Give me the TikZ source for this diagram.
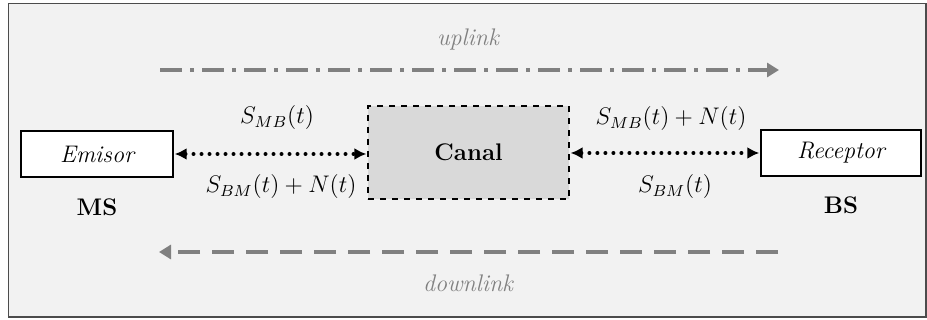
\documentclass[tikz,border=0pt]{standalone}
\usetikzlibrary{arrows.meta}

\definecolor{framegray}{HTML}{F2F2F2}
\definecolor{linkgray}{HTML}{808080}
\definecolor{canalgray}{HTML}{D9D9D9}

\tikzset{
  block/.style={draw,line width=0.7pt,fill=white,minimum height=23pt,
                font=\fontsize{12}{14}\selectfont\itshape,inner sep=0pt},
  radio/.style={line width=2pt,line cap=round,dash pattern=on 0pt off 4pt,
                {Latex[length=6pt,width=6pt]}-{Latex[length=6pt,width=6pt]},shorten <=0.5pt,shorten >=0.5pt},
  signal/.style={font=\fontsize{12}{14}\selectfont},
  station/.style={font=\fontsize{12}{14}\selectfont\bfseries},
  linkname/.style={text=linkgray,font=\fontsize{12}{14}\selectfont\itshape},
  linkarrow/.style={line width=2pt,linkgray,-{Triangle[length=6pt,width=7pt]}}
}

\begin{document}
\begin{tikzpicture}[x=0.5pt,y=-0.5pt]
  \useasboundingbox (0,0) rectangle (927,320);
  % background frame
  \draw[line width=0.9pt,draw=gray!60!black,fill=framegray] (8.5,3.5) rectangle (926,317);

  % stations and channel
  \node[block,minimum width=76pt] (emisor) at (97,154) {Emisor};
  \node[block,minimum width=80pt] (receptor) at (841,153) {Receptor};
  \node[draw,line width=0.6pt,dashed,fill=canalgray,minimum width=100.5pt,minimum height=46.5pt,
        font=\fontsize{12}{14}\selectfont\bfseries] (canal) at (468.5,152.5) {Canal};
  \node[station] (ms) at (97,207) {MS};
  \node[station] (bs) at (841,205) {BS};

  % radio links
  \draw[radio] (emisor.east) -- (canal.west |- emisor.east);
  \draw[radio] (canal.east |- receptor.west) -- (receptor.west);
  \node[signal] (mb-left) at (277,118) {$S_{MB}(t)$};
  \node[signal] (bm-left) at (281,187) {$S_{BM}(t)+N(t)$};
  \node[signal] (mb-right) at (671,119) {$S_{MB}(t)+N(t)$};
  \node[signal] (bm-right) at (675,187) {$S_{BM}(t)$};

  % uplink / downlink
  \coordinate (up-start) at (160,70);
  \coordinate (up-end) at (779,70);
  \coordinate (down-start) at (778,252);
  \coordinate (down-end) at (159,252);
  \draw[linkarrow,dash pattern=on 11pt off 4pt on 2pt off 4pt] (up-start) -- (up-end);
  \draw[linkarrow,dash pattern=on 11pt off 6pt] (down-start) -- (down-end);
  \node[linkname] (uplink) at (468,40) {uplink};
  \node[linkname] (downlink) at (468,283) {downlink};
\end{tikzpicture}
\end{document}
